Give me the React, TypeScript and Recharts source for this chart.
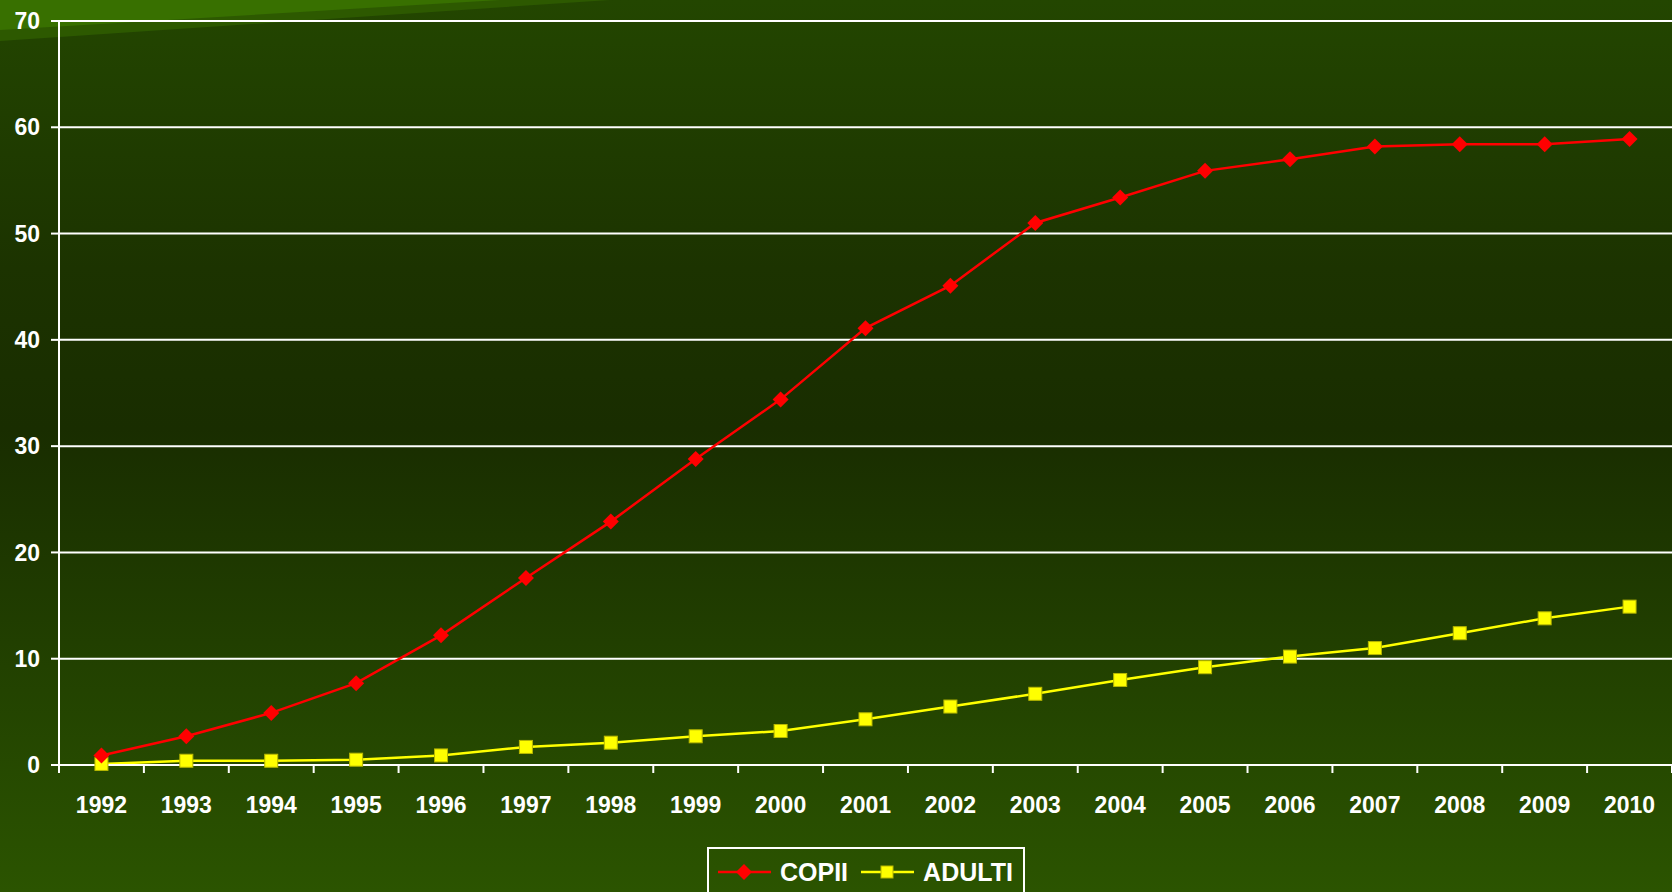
import React from 'react';
import { LineChart, Line, XAxis, YAxis, CartesianGrid, Legend } from 'recharts';

const years = [
  '1992', '1993', '1994', '1995', '1996', '1997', '1998', '1999', '2000', '2001',
  '2002', '2003', '2004', '2005', '2006', '2007', '2008', '2009', '2010',
];
const copii = [0.9, 2.7, 4.9, 7.7, 12.2, 17.6, 22.9, 28.8, 34.4, 41.1, 45.1, 51.0, 53.4, 55.9, 57.0, 58.2, 58.4, 58.4, 58.9];
const adulti = [0.1, 0.4, 0.4, 0.5, 0.9, 1.7, 2.1, 2.7, 3.2, 4.3, 5.5, 6.7, 8.0, 9.2, 10.2, 11.0, 12.4, 13.8, 14.9];
const yTicks = [0, 10, 20, 30, 40, 50, 60, 70];

const W = 1672;
const H = 892;
const LEFT = 59;
const BAND = (W - LEFT) / years.length;
const FONT = '"Liberation Sans", Arial, sans-serif';

const data = years.map((year, i) => ({ year, COPII: copii[i], ADULTI: adulti[i] }));

function YearTick({ x, y, payload, index }: any) {
  const half = BAND / 2;
  return (
    <g>
      <line x1={x - half} x2={x - half} y1={y} y2={y + 8} stroke="#fff" strokeWidth={2} />
      {index === years.length - 1 && (
        <line x1={x + half} x2={x + half} y1={y} y2={y + 8} stroke="#fff" strokeWidth={2} />
      )}
      <text
        x={x}
        y={y + 40}
        textAnchor="middle"
        dominantBaseline="central"
        fill="#fff"
        fontSize={23}
        fontWeight="bold"
        fontFamily={FONT}
      >
        {payload.value}
      </text>
    </g>
  );
}

function Diamond({ cx, cy, size = 8 }: any) {
  if (cx == null || cy == null) return null;
  return (
    <polygon
      points={`${cx},${cy - size} ${cx + size},${cy} ${cx},${cy + size} ${cx - size},${cy}`}
      fill="#ff0000"
    />
  );
}

function Square({ cx, cy, size = 13 }: any) {
  if (cx == null || cy == null) return null;
  return (
    <rect x={cx - size / 2} y={cy - size / 2} width={size} height={size} fill="#ffff00" stroke="#b8b800" strokeWidth={1} />
  );
}

function LegendBox() {
  const text = { color: '#fff', fontSize: 25, fontWeight: 700, fontFamily: FONT, lineHeight: '25px' };
  return (
    <div
      style={{
        boxSizing: 'border-box',
        width: 318,
        height: 60,
        border: '2px solid #fff',
        display: 'flex',
        alignItems: 'flex-start',
        paddingTop: 11,
        paddingLeft: 9,
      }}
    >
      <svg width={55} height={25} style={{ display: 'block' }}>
        <line x1={0} x2={53} y1={12} y2={12} stroke="#ff0000" strokeWidth={2.5} />
        <Diamond cx={26} cy={12} size={8} />
      </svg>
      <span style={{ ...text, marginLeft: 7 }}>COPII</span>
      <svg width={55} height={25} style={{ display: 'block', marginLeft: 13 }}>
        <line x1={0} x2={53} y1={12} y2={12} stroke="#ffff00" strokeWidth={2.5} />
        <Square cx={26} cy={12} size={12} />
      </svg>
      <span style={{ ...text, marginLeft: 7 }}>ADULTI</span>
    </div>
  );
}

export default function App() {
  return (
    <div
      style={{
        position: 'absolute',
        top: 0,
        left: 0,
        width: W,
        height: H,
        overflow: 'hidden',
        background: 'linear-gradient(180deg, #234600 0%, #1c3300 30%, #192d00 48%, #213f00 72%, #2b5400 100%)',
      }}
    >
      <style>{'body{margin:0}'}</style>
      <svg width={W} height={H} style={{ position: 'absolute', top: 0, left: 0 }}>
        <polygon points="0,0 610,0 0,41" fill="#2d5900" />
        <polygon points="0,0 500,0 0,30" fill="#387000" />
      </svg>
      <div style={{ position: 'absolute', top: 0, left: 0 }}>
        <LineChart width={W} height={H} data={data} margin={{ top: 21, right: 0, bottom: 0, left: 0 }}>
          <CartesianGrid vertical={false} stroke="#fff" strokeWidth={2} strokeOpacity={1} />
          <XAxis
            dataKey="year"
            height={80}
            padding={{ left: BAND / 2, right: BAND / 2 }}
            axisLine={{ stroke: '#fff', strokeWidth: 2 }}
            tickLine={false}
            tickSize={0}
            tickMargin={0}
            interval={0}
            tick={<YearTick />}
          />
          <YAxis
            width={LEFT}
            domain={[0, 70]}
            ticks={yTicks}
            interval={0}
            axisLine={{ stroke: '#fff', strokeWidth: 2 }}
            tickLine={{ stroke: '#fff', strokeWidth: 2 }}
            tickSize={8}
            tickMargin={11}
            tick={{ fill: '#fff', fontSize: 23, fontWeight: 'bold', fontFamily: FONT }}
          />
          <Legend
            verticalAlign="bottom"
            content={() => <LegendBox />}
            wrapperStyle={{ left: 707, top: 847, bottom: 'auto', width: 318, height: 47 }}
          />
          <Line
            type="linear"
            dataKey="ADULTI"
            stroke="#ffff00"
            strokeWidth={2.5}
            dot={<Square />}
            activeDot={false}
            isAnimationActive={false}
          />
          <Line
            type="linear"
            dataKey="COPII"
            stroke="#ff0000"
            strokeWidth={2.5}
            dot={<Diamond />}
            activeDot={false}
            isAnimationActive={false}
          />
        </LineChart>
      </div>
    </div>
  );
}
